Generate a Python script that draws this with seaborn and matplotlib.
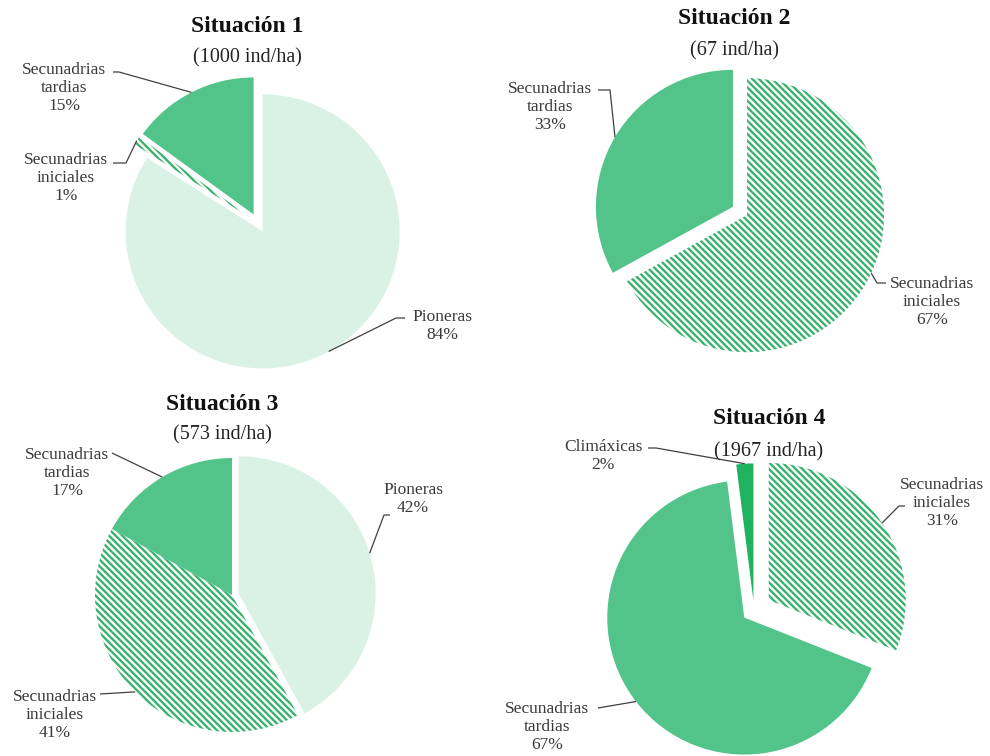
import numpy as np
import matplotlib
matplotlib.use('Agg')
import matplotlib.pyplot as plt
import seaborn as sns

sns.set_theme(style='white')
plt.rcParams['font.family'] = ['Liberation Serif', 'DejaVu Serif']
plt.rcParams['hatch.linewidth'] = 1.6

# ---- data ----
titles = ['Situación 1', 'Situación 2', 'Situación 3', 'Situación 4']
densities = ['(1000 ind/ha)', '(67 ind/ha)', '(573 ind/ha)', '(1967 ind/ha)']

groups_1 = ['Pioneras', 'Secunadrias\niniciales', 'Secunadrias\ntardias']
shares_1 = [84, 1, 15]
groups_2 = ['Secunadrias\niniciales', 'Secunadrias\ntardias']
shares_2 = [67, 33]
groups_3 = ['Pioneras', 'Secunadrias\niniciales', 'Secunadrias\ntardias']
shares_3 = [42, 41, 17]
groups_4 = ['Secunadrias\niniciales', 'Secunadrias\ntardias', 'Climáxicas']
shares_4 = [31, 67, 2]

# ---- styles per group ----
styles = {
    'Pioneras': dict(face='#daf2e5', hatch=None, edge='#daf2e5'),
    'Secunadrias\niniciales': dict(face='#f2fbf6', hatch='\\' * 5, edge='#3aae6c'),
    'Secunadrias\ntardias': dict(face='#52c48a', hatch=None, edge='#52c48a'),
    'Climáxicas': dict(face='#1fb25f', hatch=None, edge='#1fb25f'),
}

W, H = 990, 756
R = 137  # pie radius in px
S = 560  # axes side in px

# layout per panel (pixel coords)
panels = [
    dict(groups=groups_1, shares=shares_1, center=(258, 223), explode=[0.07, 0.07, 0.07],
         title=(247, 27), sub=(247, 58),
         labels=[((442, 326), (396, 318), (405, 318), None),
                 ((66, 178), (126, 163), (113, 163), None),
                 ((64, 88), (119, 72), (113, 72), None)]),
    dict(groups=groups_2, shares=shares_2, center=(740, 211), explode=[0.06, 0.06],
         title=(734, 18), sub=(734, 51),
         labels=[((932, 302), (877, 283), (886, 283), -25),
                 ((550, 107), (610, 90), (598, 90), None)]),
    dict(groups=groups_3, shares=shares_3, center=(232, 595), explode=[0.05, 0, 0],
         title=(222, 404), sub=(222, 435),
         labels=[((413, 499), (384, 515), (390, 515), 17),
                 ((55, 715), (100, 694), (100, 694), None),
                 ((67, 473), (112, 453), (112, 453), None)]),
    dict(groups=groups_4, shares=shares_4, center=(754, 610), explode=[0.13, 0.09, 0.07],
         title=(769, 419), sub=(769, 452),
         labels=[((942, 503), (899, 506), (905, 506), None),
                 ((547, 727), (598, 708), (598, 708), None),
                 ((603, 456), (656, 448), (648, 448), None)]),
]

fig = plt.figure(figsize=(W / 100, H / 100), dpi=100)
fig.patch.set_facecolor('white')

for i, p in enumerate(panels):
    cx, cy = p['center']
    ax = fig.add_axes([(cx - S / 2) / W, 1 - (cy + S / 2) / H, S / W, S / H])
    wedges, _ = ax.pie(p['shares'], startangle=90, counterclock=False,
                       explode=p['explode'], radius=1,
                       wedgeprops=dict(linewidth=0))
    for w, g in zip(wedges, p['groups']):
        st = styles[g]
        w.set_facecolor(st['face'])
        w.set_edgecolor(st['edge'])
        w.set_linewidth(0)
        if st['hatch']:
            w.set_hatch(st['hatch'])
    lim = S / 2 / R
    ax.set_xlim(-lim, lim)
    ax.set_ylim(-lim, lim)
    ax.set_aspect('equal')
    ax.axis('off')

    def px(pt):
        return ((pt[0] - cx) / R, -(pt[1] - cy) / R)

    for w, g, v, (tpos, elbow, end, ang) in zip(wedges, p['groups'], p['shares'], p['labels']):
        tx, ty = px(tpos)
        ax.text(tx, ty, f'{g}\n{v}%', ha='center', va='center', fontsize=12.5,
                linespacing=1.2, color='#3a3a3a')
        a = np.deg2rad(ang if ang is not None else (w.theta1 + w.theta2) / 2)
        x0 = w.center[0] + w.r * np.cos(a)
        y0 = w.center[1] + w.r * np.sin(a)
        ex, ey = px(elbow)
        nx, ny = px(end)
        ax.plot([x0, ex, nx], [y0, ey, ny], color='#404040', lw=0.9,
                solid_capstyle='butt', clip_on=False)

    fig.text(p['title'][0] / W, 1 - p['title'][1] / H, titles[i], ha='center', va='center',
             fontsize=17, fontweight='bold', color='#111111')
    fig.text(p['sub'][0] / W, 1 - p['sub'][1] / H, densities[i], ha='center', va='center',
             fontsize=14.5, color='#222222')

fig.savefig('out.png', dpi=100, facecolor='white')
